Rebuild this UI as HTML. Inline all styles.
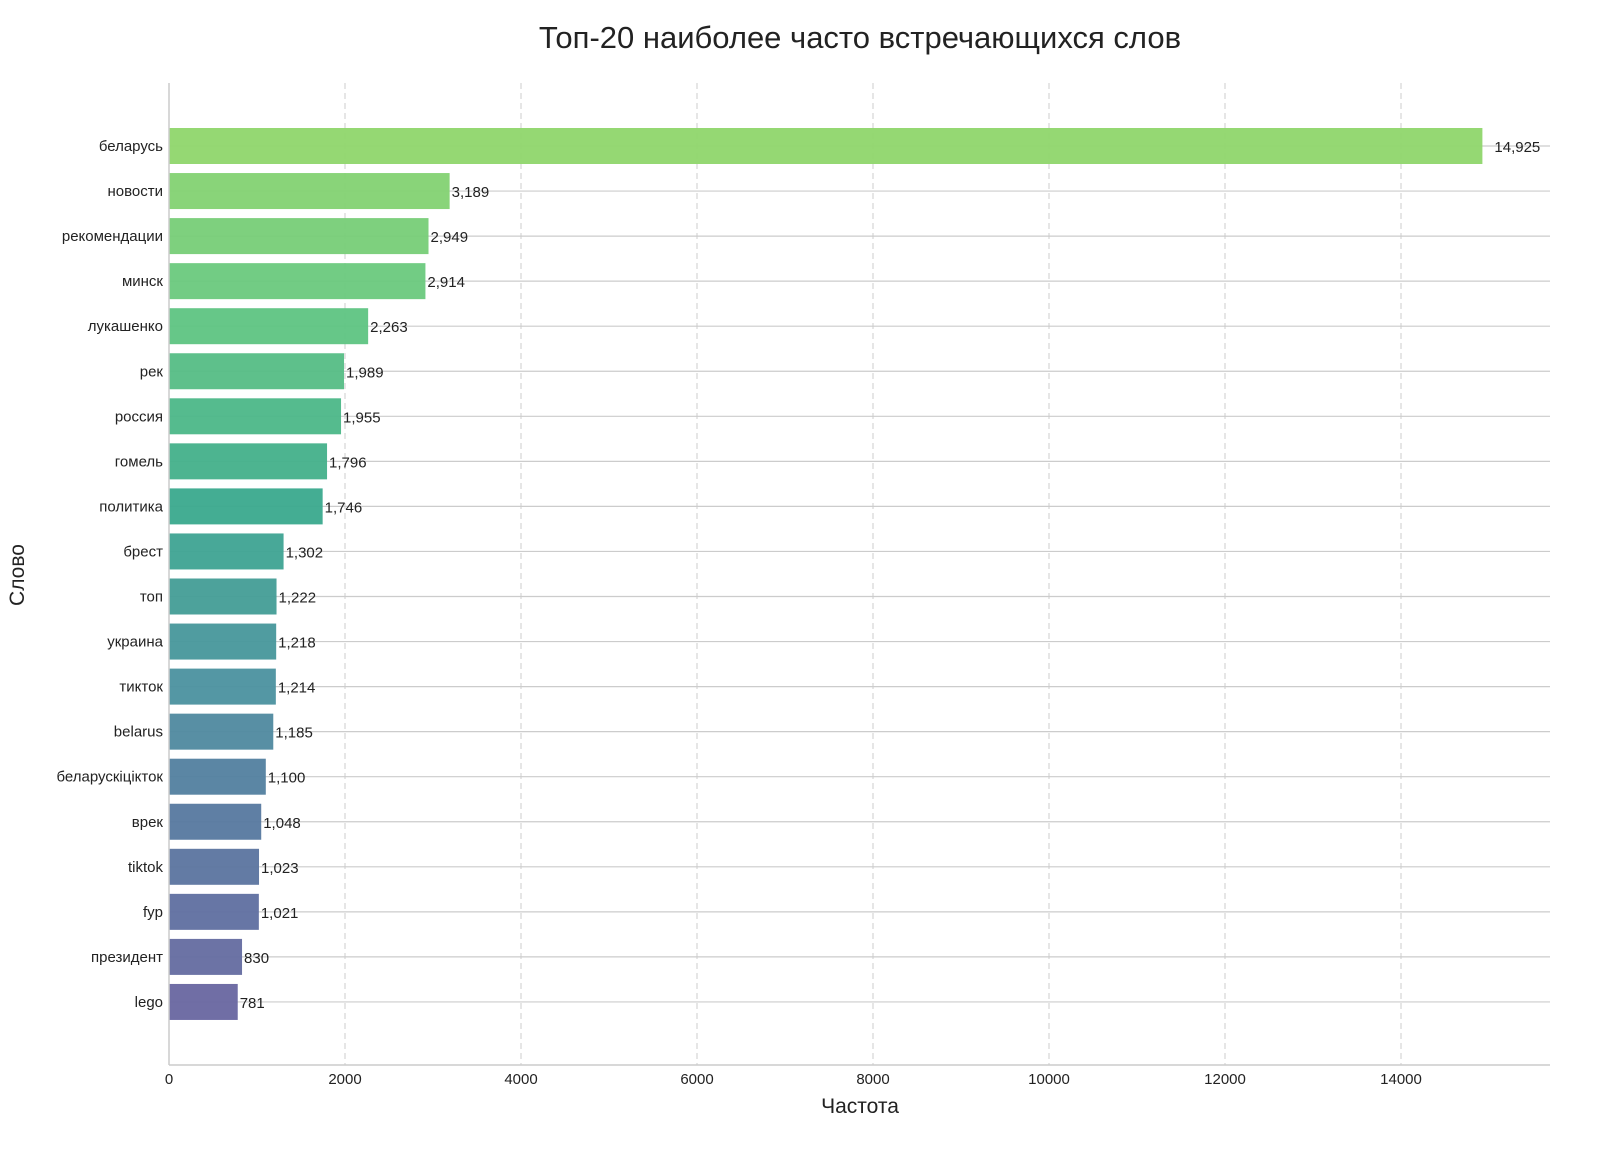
<!DOCTYPE html>
<html><head><meta charset="utf-8"><style>body{margin:0;background:#fff}svg{display:block;font-family:"Liberation Sans",Arial,sans-serif}</style></head>
<body>
<svg id="s" width="1600" height="1166" xmlns="http://www.w3.org/2000/svg"></svg>
<script>
const words=["беларусь","новости","рекомендации","минск","лукашенко","рек","россия","гомель","политика","брест","топ","украина","тикток","belarus","беларускіцікток","врек","tiktok","fyp","президент","lego"];
const vals=[14925,3189,2949,2914,2263,1989,1955,1796,1746,1302,1222,1218,1214,1185,1100,1048,1023,1021,830,781];
const stops=[[0,[143,214,108]],[4,[94,196,130]],[8,[58,169,141]],[12,[75,145,159]],[15,[86,120,159]],[19,[104,102,160]]];
function col(i){for(let k=0;k<stops.length-1;k++){const [a,ca]=stops[k],[b,cb]=stops[k+1];if(i>=a&&i<=b){const t=(i-a)/(b-a);return `rgb(${ca.map((v,j)=>Math.round(v+(cb[j]-v)*t)).join(",")})`;}}}
const L=169,R=1550,T=83,B=1065,sc=0.088;
let h=`<text x="860" y="48" font-size="31" text-anchor="middle" fill="#222">Топ-20 наиболее часто встречающихся слов</text>`;
for(let v=2000;v<=14000;v+=2000){const x=L+v*sc;h+=`<line x1="${x}" y1="${T}" x2="${x}" y2="${B}" stroke="#ccc" stroke-dasharray="6,4" stroke-width="1"/>`;}
for(let v=0;v<=14000;v+=2000){const x=L+v*sc;h+=`<text x="${x}" y="1084" font-size="15" text-anchor="middle" fill="#222">${v}</text>`;}
words.forEach((w,i)=>{const y=146+i*45.05;h+=`<line x1="${L}" y1="${y}" x2="${R}" y2="${y}" stroke="#ccc" stroke-width="1.2"/>`;});
words.forEach((w,i)=>{const y=146+i*45.05,wd=vals[i]*sc;
h+=`<rect x="${L}" y="${y-18}" width="${wd}" height="36" fill="${col(i)}" opacity="0.95"/>`;
h+=`<text x="${L-6}" y="${y+5}" font-size="15" text-anchor="end" fill="#222">${w}</text>`;
h+=`<text x="${L+wd+(i==0?12:2)}" y="${y+6}" font-size="15" fill="#222">${vals[i].toLocaleString('en-US')}</text>`;});
h+=`<line x1="${L}" y1="${T}" x2="${L}" y2="${B}" stroke="#ccc" stroke-width="1.5"/><line x1="${L}" y1="${B}" x2="${R}" y2="${B}" stroke="#ccc" stroke-width="1.5"/>`;
h+=`<text x="860" y="1113" font-size="21" text-anchor="middle" fill="#222">Частота</text>`;
h+=`<text transform="translate(24,575) rotate(-90)" font-size="21" text-anchor="middle" fill="#222">Слово</text>`;
document.getElementById("s").innerHTML=h;
</script>
</body></html>
